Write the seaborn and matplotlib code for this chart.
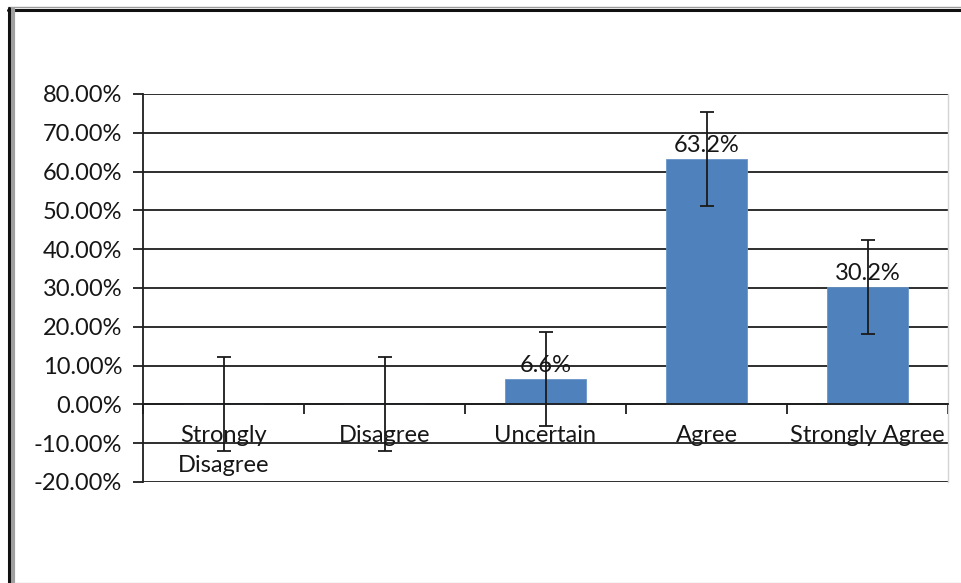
import numpy as np
import pandas as pd
import seaborn as sns
import matplotlib
matplotlib.use("Agg")
import matplotlib.pyplot as plt
from matplotlib.ticker import PercentFormatter, MultipleLocator
from matplotlib.lines import Line2D

# Survey responses (percent of respondents) with error margins
categories = ["Strongly\nDisagree", "Disagree", "Uncertain", "Agree", "Strongly Agree"]
percent = [0.0, 0.0, 6.6, 63.2, 30.2]
error = [12.1, 12.1, 12.1, 12.1, 12.1]
value_labels = ["", "", "6.6%", "63.2%", "30.2%"]

sns.set_theme(style="white")
plt.rcParams["font.family"] = ["Lato", "DejaVu Sans"]
plt.rcParams["axes.unicode_minus"] = False

W, H = 961, 583
TXT = "#161616"
FS = 17
fig = plt.figure(figsize=(W / 100, H / 100), dpi=100)
fig.patch.set_facecolor("white")

ax = fig.add_axes([143 / W, 1 - 482 / H, (948 - 143) / W, (482 - 94) / H])

df = pd.DataFrame({"category": categories, "percent": percent})
sns.barplot(data=df, x="category", y="percent", color="#4F81BD",
            width=0.5, saturation=1, edgecolor="#6a95c8", linewidth=0.6,
            ax=ax, zorder=2)

pos = np.arange(len(categories))
ax.errorbar(pos, percent, yerr=error, fmt="none", ecolor="#1a1a1a",
            elinewidth=1.3, capsize=4.8, capthick=1.3, zorder=4)

for x, v, lab in zip(pos, percent, value_labels):
    if lab:
        ax.annotate(lab, (x, v), xytext=(0, 2), textcoords="offset points",
                    ha="center", va="bottom", fontsize=FS, color=TXT,
                    zorder=5)

ax.set_ylim(-20, 80)
ax.set_xlim(-0.5, len(categories) - 0.5)
ax.yaxis.set_major_locator(MultipleLocator(10))
ax.yaxis.set_major_formatter(PercentFormatter(decimals=2))
ax.set_xlabel("")
ax.set_ylabel("")

ax.set_axisbelow(True)
ax.yaxis.grid(True, color="#1e1e1e", linewidth=1.3)
ax.xaxis.grid(False)

# x axis sits on the zero line, ticks at category boundaries
ax.spines["bottom"].set_position(("data", 0))
ax.spines["bottom"].set_color("#1e1e1e")
ax.spines["bottom"].set_linewidth(1.3)
ax.spines["left"].set_color("#1e1e1e")
ax.spines["left"].set_linewidth(1.3)
ax.spines["top"].set_visible(False)
ax.spines["right"].set_color("#d4d4d4")
ax.spines["right"].set_linewidth(1.0)

ax.set_xticks(np.arange(len(categories) + 1) - 0.5)
ax.set_xticklabels([""] * (len(categories) + 1))
ax.set_xticks(pos, minor=True)
ax.set_xticklabels(categories, minor=True, linespacing=1.5)
ax.tick_params(axis="x", which="major", direction="out", length=7,
               width=1.3, color="#1e1e1e", bottom=True)
ax.tick_params(axis="x", which="minor", length=0, pad=15,
               labelsize=FS, labelcolor=TXT)
ax.tick_params(axis="y", which="major", direction="out", length=7,
               width=1.3, color="#1e1e1e", left=True, pad=8,
               labelsize=FS, labelcolor=TXT)

# outer frame of the chart object
def hline(y, x0, x1, color, lw):
    fig.add_artist(Line2D([x0 / W, x1 / W], [1 - y / H, 1 - y / H],
                          transform=fig.transFigure, color=color, linewidth=lw))

def vline(x, y0, y1, color, lw):
    fig.add_artist(Line2D([x / W, x / W], [1 - y0 / H, 1 - y1 / H],
                          transform=fig.transFigure, color=color, linewidth=lw))

hline(7, 8, W, "#9a9a9a", 1.0)
hline(9.5, 8, W, "#111111", 2.2)
vline(12.5, 9, H, "#a0a0a0", 3.0)
vline(9.3, 8, H, "#111111", 2.2)
hline(582.5, 14, W, "#d0d0d0", 1.0)

fig.savefig("out.png", dpi=100, facecolor="white")
